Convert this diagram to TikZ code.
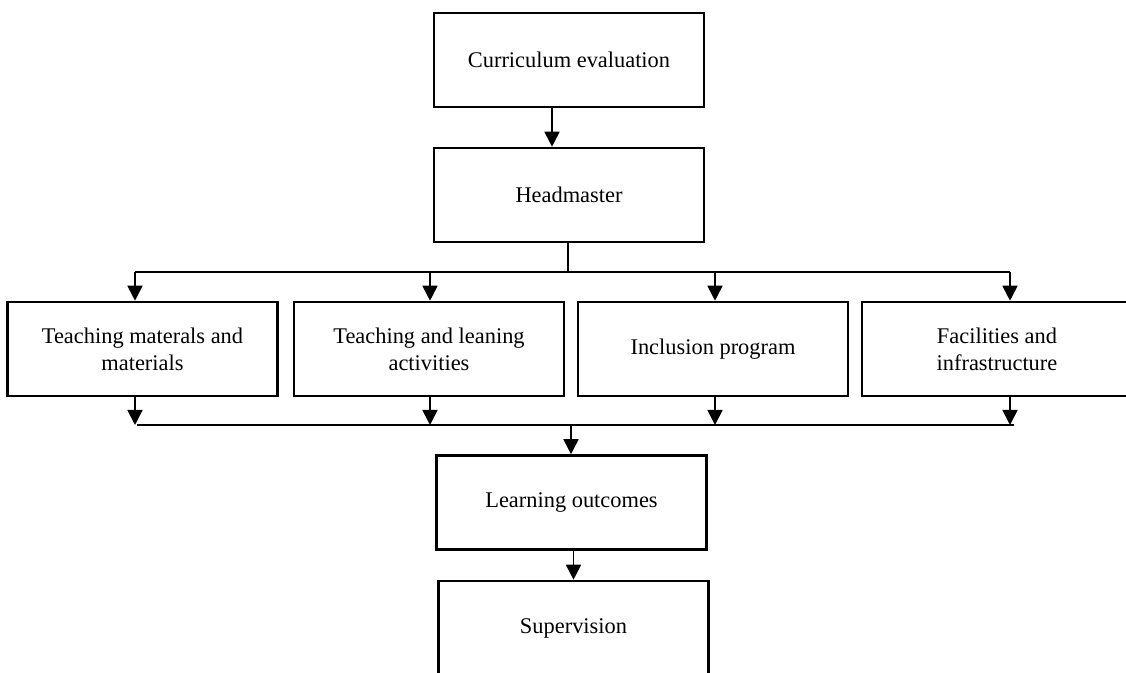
\documentclass[tikz,border=0pt]{standalone}
\usepackage{fontspec}
\setmainfont{Liberation Serif}
\usetikzlibrary{arrows.meta,positioning}

\begin{document}
\begin{tikzpicture}[x=0.5pt,y=-0.5pt,
  box/.style={draw,line width=1.3pt,minimum width=135pt,minimum height=47pt,
    inner sep=0pt,align=center,font=\fontsize{11.2}{13.5}\selectfont},
  conn/.style={line width=0.9pt},
  arr/.style={conn,-{Triangle[length=7.5pt,width=7.5pt]}}]

\useasboundingbox (0,0) rectangle (1126,673);

\node[box] (cureval) at (569,60) {Curriculum evaluation};
\node[box] (head) at (569,195) {Headmaster};
\node[box] (tmat) at (142.5,349) {Teaching materals and\\materials};
\node[box] (tla) at (429,349) {Teaching and leaning\\activities};
\node[box] (incl) at (713,349) {Inclusion program};
\node[box] (facil) at (997,349) {Facilities and\\infrastructure};
\node[box] (lout) at (571.5,502.5) {Learning outcomes};
\node[box] (superv) at (573.5,628) {Supervision};

\draw[arr] ([xshift=-8.5pt]cureval.south) -- ([xshift=-8.5pt]head.north);

% split from the headmaster
\coordinate (hsplit) at (568,272);
\draw[conn] (hsplit |- head.south) -- (hsplit);
\draw[conn] (135,272) -- (1010,272);
\draw[conn] (137,425) -- (1014,425);
\foreach \x/\n in {135/tmat,430/tla,715/incl,1010/facil}{
  \coordinate (top\n) at (\x,272);
  \coordinate (bot\n) at (\x,425);
  \draw[arr] (top\n) -- (top\n |- \n.north);
  \draw[arr] (bot\n |- \n.south) -- (bot\n);
}

% join into the outcomes
\coordinate (bjoin) at (571,425);
\draw[arr] (bjoin) -- (bjoin |- lout.north);
\draw[arr] (lout.south -| superv.north) -- (superv.north);
\end{tikzpicture}
\end{document}
